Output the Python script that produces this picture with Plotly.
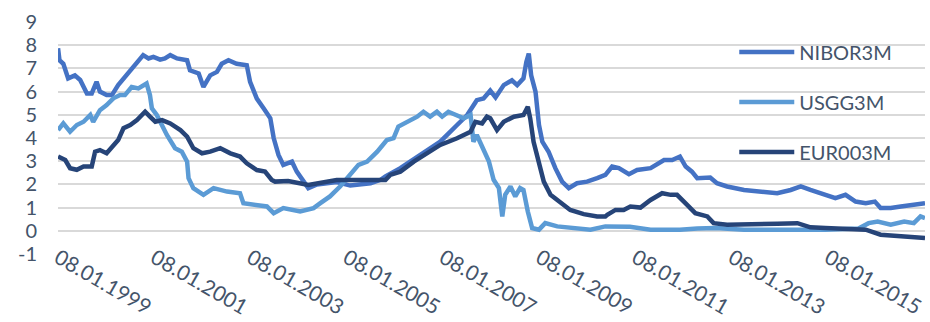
from datetime import datetime, timedelta
import plotly.graph_objects as go

# Sample times as decimal years, values in percent
nibor_t = [1999.02, 1999.05, 1999.13, 1999.23, 1999.37, 1999.48, 1999.62, 1999.72, 1999.82, 1999.89,
           2000.03, 2000.14, 2000.27, 2000.41, 2000.52, 2000.66, 2000.79, 2000.90, 2001.00, 2001.14,
           2001.24, 2001.35, 2001.49, 2001.70, 2001.76, 2001.94, 2002.04, 2002.18, 2002.32, 2002.42,
           2002.56, 2002.73, 2002.94, 2003.01, 2003.15, 2003.29, 2003.43, 2003.50, 2003.60, 2003.70,
           2003.88, 2003.98, 2004.12, 2004.22, 2004.40, 2004.60, 2004.81, 2005.09, 2005.30, 2005.51,
           2005.72, 2005.82, 2006.13, 2006.55, 2006.96, 2007.31, 2007.52, 2007.72, 2007.86, 2008.00,
           2008.11, 2008.28, 2008.45, 2008.56, 2008.69, 2008.75, 2008.80, 2008.85, 2008.94, 2009.01,
           2009.08, 2009.21, 2009.35, 2009.49, 2009.63, 2009.80, 2010.01, 2010.22, 2010.39, 2010.53,
           2010.67, 2010.88, 2011.05, 2011.33, 2011.61, 2011.78, 2011.94, 2012.06, 2012.19, 2012.30,
           2012.51, 2012.57, 2012.71, 2012.92, 2013.27, 2013.61, 2013.96, 2014.24, 2014.45, 2014.65,
           2014.93, 2015.17, 2015.38, 2015.59, 2015.80, 2015.99, 2016.11, 2016.32, 2016.53, 2016.80,
           2017.03]
nibor_v = [7.87, 7.35, 7.20, 6.57, 6.70, 6.50, 5.92, 5.92, 6.42, 6.00,
           5.85, 5.85, 6.28, 6.64, 6.92, 7.28, 7.57, 7.43, 7.50, 7.38,
           7.43, 7.57, 7.43, 7.35, 6.92, 6.78, 6.20, 6.70, 6.85, 7.20,
           7.35, 7.20, 7.14, 6.42, 5.70, 5.28, 4.85, 4.00, 3.27, 2.84,
           2.98, 2.55, 2.12, 1.84, 2.00, 2.05, 2.10, 1.95, 2.00, 2.05,
           2.20, 2.34, 2.70, 3.27, 3.84, 4.56, 4.99, 5.63, 5.70, 6.04,
           5.75, 6.28, 6.49, 6.28, 6.57, 7.28, 7.64, 6.70, 6.00, 4.56,
           3.84, 3.41, 2.70, 2.12, 1.84, 2.05, 2.12, 2.27, 2.41, 2.77,
           2.70, 2.44, 2.62, 2.70, 3.05, 3.05, 3.20, 2.77, 2.55, 2.27,
           2.27, 2.30, 2.05, 1.91, 1.76, 1.69, 1.62, 1.76, 1.91, 1.76,
           1.55, 1.41, 1.55, 1.26, 1.19, 1.26, 0.98, 0.98, 1.05, 1.12,
           1.19]

usgg_t = [1999.02, 1999.13, 1999.27, 1999.41, 1999.55, 1999.69, 1999.75, 1999.89, 2000.03, 2000.17,
          2000.31, 2000.41, 2000.55, 2000.69, 2000.86, 2000.93, 2000.97, 2001.07, 2001.28, 2001.45,
          2001.59, 2001.70, 2001.73, 2001.83, 2002.04, 2002.25, 2002.53, 2002.80, 2002.87, 2003.15,
          2003.36, 2003.50, 2003.70, 2004.05, 2004.33, 2004.47, 2004.67, 2004.88, 2005.09, 2005.26,
          2005.44, 2005.65, 2005.85, 2005.99, 2006.09, 2006.27, 2006.48, 2006.61, 2006.75, 2006.89,
          2007.00, 2007.13, 2007.31, 2007.45, 2007.59, 2007.65, 2007.72, 2007.79, 2007.86, 2007.97,
          2008.07, 2008.18, 2008.25, 2008.31, 2008.42, 2008.52, 2008.62, 2008.69, 2008.78, 2008.87,
          2009.01, 2009.14, 2009.39, 2009.80, 2010.08, 2010.39, 2010.90, 2011.33, 2011.94, 2012.30,
          2012.68, 2013.27, 2013.96, 2014.50, 2014.96, 2015.65, 2015.86, 2016.05, 2016.32, 2016.60,
          2016.80, 2016.94, 2017.03]
usgg_v = [4.34, 4.63, 4.27, 4.56, 4.70, 4.99, 4.70, 5.20, 5.42, 5.71,
          5.85, 5.85, 6.20, 6.14, 6.35, 5.85, 5.28, 4.99, 4.13, 3.56,
          3.41, 2.98, 2.27, 1.84, 1.55, 1.84, 1.69, 1.62, 1.19, 1.12,
          1.05, 0.76, 0.98, 0.83, 0.98, 1.19, 1.48, 1.91, 2.41, 2.84,
          2.98, 3.41, 3.91, 3.99, 4.49, 4.70, 4.92, 5.13, 4.92, 5.13,
          4.92, 5.13, 4.99, 4.85, 4.99, 3.84, 4.13, 3.84, 3.56, 3.00,
          2.20, 1.84, 0.62, 1.55, 1.91, 1.48, 1.84, 1.76, 0.83, 0.12,
          0.05, 0.33, 0.19, 0.12, 0.05, 0.19, 0.17, 0.05, 0.05, 0.10,
          0.12, 0.05, 0.05, 0.05, 0.05, 0.10, 0.33, 0.40, 0.26, 0.40,
          0.33, 0.62, 0.55]

eur_t = [1999.02, 1999.17, 1999.27, 1999.41, 1999.55, 1999.72, 1999.79, 1999.89, 2000.03, 2000.17,
         2000.27, 2000.38, 2000.52, 2000.66, 2000.83, 2000.93, 2001.04, 2001.18, 2001.35, 2001.56,
         2001.70, 2001.83, 2002.01, 2002.18, 2002.39, 2002.60, 2002.80, 2002.94, 2003.15, 2003.32,
         2003.46, 2003.53, 2003.80, 2004.22, 2004.81, 2005.51, 2005.82, 2005.92, 2006.13, 2006.41,
         2006.68, 2006.96, 2007.31, 2007.59, 2007.69, 2007.83, 2007.93, 2008.00, 2008.14, 2008.28,
         2008.49, 2008.69, 2008.78, 2008.83, 2008.90, 2009.01, 2009.11, 2009.25, 2009.46, 2009.66,
         2009.94, 2010.22, 2010.39, 2010.43, 2010.60, 2010.77, 2010.91, 2011.12, 2011.33, 2011.57,
         2011.75, 2011.88, 2012.09, 2012.26, 2012.51, 2012.64, 2012.92, 2013.61, 2013.96, 2014.38,
         2014.65, 2014.96, 2015.80, 2016.11, 2016.53, 2017.03]
eur_v = [3.20, 3.05, 2.70, 2.63, 2.77, 2.77, 3.41, 3.48, 3.34, 3.70,
         3.91, 4.42, 4.56, 4.77, 5.13, 4.92, 4.70, 4.77, 4.63, 4.34,
         4.06, 3.56, 3.34, 3.41, 3.56, 3.34, 3.20, 2.91, 2.62, 2.55,
         2.19, 2.12, 2.15, 1.98, 2.19, 2.19, 2.19, 2.41, 2.55, 2.98,
         3.34, 3.70, 3.99, 4.27, 4.70, 4.63, 4.92, 4.85, 4.34, 4.70,
         4.92, 4.99, 5.35, 4.85, 3.84, 2.98, 2.12, 1.55, 1.19, 0.90,
         0.72, 0.62, 0.62, 0.69, 0.90, 0.90, 1.05, 1.00, 1.33, 1.62,
         1.55, 1.55, 1.12, 0.76, 0.62, 0.33, 0.26, 0.26, 0.30, 0.33,
         0.15, 0.12, 0.05, -0.17, -0.24, -0.31]

series_names = ["NIBOR3M", "USGG3M", "EUR003M"]
series_colors = ["#4472C4", "#5B9BD5", "#264478"]
tick_years = [1999, 2001, 2003, 2005, 2007, 2009, 2011, 2013, 2015]
y_ticks = [-1, 0, 1, 2, 3, 4, 5, 6, 7, 8, 9]


def to_date(t):
    year = int(t)
    return datetime(year, 1, 1) + timedelta(days=(t - year) * 365.25)


TEXT = "#44546A"
FONT = "Lato"

fig = go.Figure()
for name, color, ts, vs in zip(series_names, series_colors,
                               [nibor_t, usgg_t, eur_t], [nibor_v, usgg_v, eur_v]):
    fig.add_trace(go.Scatter(
        x=[to_date(t) for t in ts], y=vs, name=name, mode="lines",
        legendgroup=name,
        line=dict(color=color, width=4.5, shape="linear"),
    ))

fig.update_layout(
    width=930, height=322,
    margin=dict(l=58, r=5, t=22, b=68),
    paper_bgcolor="white", plot_bgcolor="white",
    font=dict(family=FONT, size=20, color=TEXT),
    showlegend=True,
    legend=dict(
        x=0.78, y=0.955, xanchor="left", yanchor="top",
        bgcolor="rgba(0,0,0,0)", font=dict(size=20, color=TEXT, family=FONT),
        itemwidth=55, tracegroupgap=21, traceorder="grouped",
    ),
)

fig.update_xaxes(
    type="date", automargin=False,
    range=[datetime(1999, 1, 8), to_date(2017.03)],
    tickvals=[datetime(y, 1, 8) for y in tick_years],
    ticktext=[f"08.01.{y}" for y in tick_years],
    tickangle=30, showgrid=False, zeroline=False, showline=False,
    ticks="", ticklabelstandoff=-13,
    tickfont=dict(size=21, color=TEXT, family=FONT),
)
fig.update_yaxes(
    range=[-1, 9], tickvals=y_ticks, ticktext=[str(v) for v in y_ticks],
    automargin=False,
    showgrid=True, gridcolor="#D9D9D9", gridwidth=1.5,
    zeroline=False, showline=False, ticks="",
    ticklabelstandoff=20, tickfont=dict(size=20, color=TEXT, family=FONT),
)

fig.write_html("out.html")
